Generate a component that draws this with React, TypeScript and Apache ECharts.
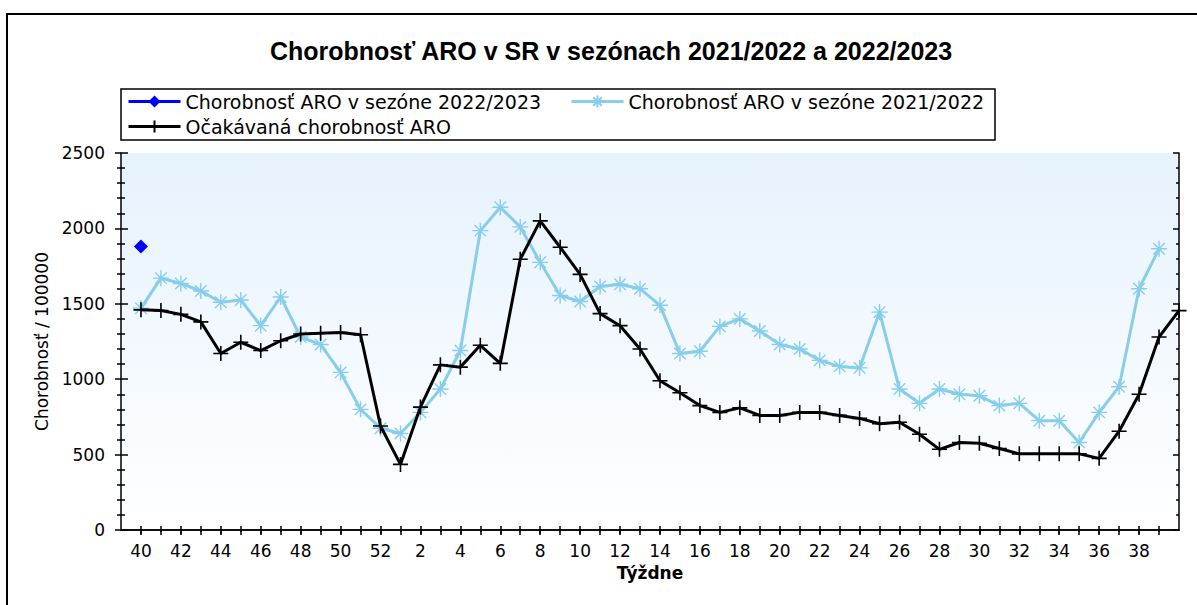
import React, { useEffect, useRef } from "react";
import * as echarts from "echarts";

const weekLabels = [
  "40", "41", "42", "43", "44", "45", "46", "47", "48", "49", "50", "51", "52",
  "1", "2", "3", "4", "5", "6", "7", "8", "9", "10", "11", "12", "13", "14", "15",
  "16", "17", "18", "19", "20", "21", "22", "23", "24", "25", "26", "27", "28",
  "29", "30", "31", "32", "33", "34", "35", "36", "37", "38", "39", "40",
];

const season2022_2023 = [1880];

const season2021_2022 = [
  1470, 1670, 1635, 1585, 1510, 1525, 1355, 1545, 1280, 1230, 1045, 800, 675,
  640, 780, 935, 1190, 1985, 2140, 2010, 1775, 1555, 1515, 1615, 1630, 1600,
  1490, 1170, 1185, 1350, 1400, 1320, 1230, 1200, 1125, 1085, 1075, 1445, 935,
  840, 935, 900, 890, 825, 840, 725, 725, 580, 780, 950, 1600, 1865,
];

const expected = [
  1460, 1455, 1430, 1380, 1170, 1245, 1190, 1255, 1300, 1305, 1310, 1295, 690,
  435, 815, 1095, 1080, 1225, 1105, 1795, 2050, 1875, 1695, 1435, 1355, 1200,
  990, 910, 825, 780, 810, 760, 760, 780, 780, 760, 740, 705, 715, 635, 535,
  580, 575, 540, 505, 505, 505, 505, 475, 655, 900, 1280, 1455,
];

const yTicks = { min: 0, max: 2500, interval: 500 };

const NAME_NEW = "Chorobnosť ARO v sezóne 2022/2023";
const NAME_OLD = "Chorobnosť ARO v sezóne 2021/2022";
const NAME_EXP = "Očakávaná chorobnosť ARO";
const TITLE = "Chorobnosť ARO v SR v sezónach 2021/2022 a 2022/2023";

const PLUS = "path://M0,-7L0,7M-7,0L7,0";
const ASTER = "path://M0,-7L0,7M-7,0L7,0M-5,-5L5,5M-5,5L5,-5";

const SKY = "#87ceeb";
const FONT = "DejaVu Sans";

export default function App() {
  const ref = useRef<HTMLDivElement>(null);
  useEffect(() => {
    if (!ref.current) return;
    const chart = echarts.init(ref.current, undefined, { renderer: "svg" });
    const cats = ["", ...weekLabels];
    const last = weekLabels.length - 1;
    const isMajor = (i: number, v: string) => i >= 1 && i <= last && Number(v) % 2 === 0;
    const isMinor = (i: number, v: string) => i >= 1 && i <= last && Number(v) % 2 === 1;
    const isAny = (i: number) => i >= 1 && i <= last;
    const gridPos = { left: 121, right: 18, top: 153, bottom: 75 };
    const blk = { color: "#000", width: 1.5 };
    const hiddenCat = (gi: number, pos: string, tick: any) => ({
      type: "category",
      gridIndex: gi,
      position: pos,
      data: cats,
      boundaryGap: false,
      axisLine: { show: false },
      axisLabel: { show: false },
      splitLine: { show: false },
      axisTick: tick,
    });
    const legendBase = {
      padding: 0,
      itemWidth: 52,
      itemHeight: 15,
      lineStyle: { width: 3 },
      textStyle: { fontFamily: FONT, fontSize: 19, color: "#000" },
    };
    const option: any = {
      animation: false,
      backgroundColor: "#fff",
      title: {
        text: TITLE,
        left: 606,
        top: 33,
        textAlign: "center",
        textStyle: {
          fontFamily: "Liberation Sans",
          fontWeight: "bold",
          fontSize: 25,
          color: "#000",
        },
      },
      legend: [
        { ...legendBase, data: [NAME_NEW], left: 127, top: 92 },
        { ...legendBase, data: [NAME_OLD], left: 570, top: 92 },
        { ...legendBase, data: [NAME_EXP], left: 127, top: 117 },
      ],
      graphic: [
        {
          type: "rect",
          shape: { x: 7, y: 14, width: 1200, height: 620 },
          style: { fill: "none", stroke: "#000", lineWidth: 2 },
          silent: true,
          z: -10,
        },
        {
          type: "rect",
          shape: { x: 121, y: 89, width: 874, height: 51 },
          style: { fill: "#fff", stroke: "#000", lineWidth: 1.5 },
          silent: true,
          z: -5,
        },
      ],
      grid: [
        {
          ...gridPos,
          show: true,
          borderWidth: 0,
          backgroundColor: new echarts.graphic.LinearGradient(0, 0, 0, 1, [
            { offset: 0, color: "#e6f2fd" },
            { offset: 1, color: "#ffffff" },
          ]),
        },
        { ...gridPos, show: false },
        { ...gridPos, show: false },
      ],
      xAxis: [
        {
          type: "category",
          gridIndex: 0,
          position: "bottom",
          data: cats,
          boundaryGap: false,
          axisLine: { show: true, lineStyle: blk },
          axisTick: { show: true, inside: false, length: 4, interval: isMajor, lineStyle: blk },
          axisLabel: {
            show: true,
            interval: isMajor,
            margin: 12,
            fontFamily: FONT,
            fontSize: 17,
            color: "#000",
          },
          splitLine: { show: false },
          name: "Týždne",
          nameLocation: "middle",
          nameGap: 34,
          nameTextStyle: { fontFamily: FONT, fontWeight: "bold", fontSize: 17, color: "#000" },
        },
        {
          type: "category",
          gridIndex: 0,
          position: "top",
          data: cats,
          boundaryGap: false,
          axisLine: { show: true, lineStyle: blk },
          axisTick: { show: true, inside: true, length: 5, interval: (i: number) => isAny(i), lineStyle: blk },
          axisLabel: { show: false },
          splitLine: { show: false },
        },
        hiddenCat(1, "bottom", { show: true, inside: true, length: 4, interval: (i: number) => isAny(i), lineStyle: blk }),
        hiddenCat(2, "bottom", { show: true, inside: false, length: 2, interval: isMinor, lineStyle: blk }),
      ],
      yAxis: [
        {
          type: "value",
          gridIndex: 0,
          position: "left",
          ...yTicks,
          axisLine: { show: true, lineStyle: blk },
          axisTick: { show: true, inside: false, length: 6, lineStyle: blk },
          minorTick: { show: true, splitNumber: 5, length: 4, lineStyle: blk },
          axisLabel: {
            show: true,
            margin: 16,
            fontFamily: FONT,
            fontSize: 17,
            color: "#000",
            formatter: (v: number) => String(v),
          },
          splitLine: { show: false },
          name: "Chorobnosť / 100000",
          nameLocation: "middle",
          nameRotate: 90,
          nameGap: 60,
          nameTextStyle: { fontFamily: FONT, fontSize: 17, color: "#000" },
        },
        {
          type: "value",
          gridIndex: 0,
          position: "right",
          ...yTicks,
          axisLine: { show: true, lineStyle: blk },
          axisTick: { show: true, inside: true, length: 6, lineStyle: blk },
          minorTick: { show: true, splitNumber: 5, length: 3, lineStyle: blk },
          axisLabel: { show: false },
          splitLine: { show: false },
        },
        {
          type: "value",
          gridIndex: 1,
          position: "left",
          ...yTicks,
          axisLine: { show: false },
          axisTick: { show: true, inside: true, length: 7, lineStyle: blk },
          minorTick: { show: true, splitNumber: 5, length: 4, lineStyle: blk },
          axisLabel: { show: false },
          splitLine: { show: false },
        },
        {
          type: "value",
          gridIndex: 2,
          position: "left",
          ...yTicks,
          show: false,
          splitLine: { show: false },
        },
      ],
      series: [
        {
          name: NAME_OLD,
          type: "line",
          xAxisIndex: 0,
          yAxisIndex: 0,
          data: [null, ...season2021_2022],
          symbol: ASTER,
          symbolSize: 16,
          showAllSymbol: true,
          lineStyle: { color: SKY, width: 3 },
          itemStyle: { color: SKY, borderColor: SKY, borderWidth: 1.4 },
          z: 2,
        },
        {
          name: NAME_EXP,
          type: "line",
          xAxisIndex: 0,
          yAxisIndex: 0,
          data: [null, ...expected],
          symbol: PLUS,
          symbolSize: 15,
          showAllSymbol: true,
          lineStyle: { color: "#000", width: 3 },
          itemStyle: { color: "#000", borderColor: "#000", borderWidth: 1.6 },
          z: 3,
        },
        {
          name: NAME_NEW,
          type: "line",
          xAxisIndex: 0,
          yAxisIndex: 0,
          data: [null, ...season2022_2023],
          symbol: "diamond",
          symbolSize: 14,
          showAllSymbol: true,
          lineStyle: { color: "#0000ff", width: 3 },
          itemStyle: { color: "#0000ff", borderColor: "#0000ff", borderWidth: 0 },
          z: 4,
        },
      ],
    };
    chart.setOption(option);
    return () => chart.dispose();
  }, []);
  return (
    <div
      ref={ref}
      style={{ position: "fixed", left: 0, top: 0, width: 1197, height: 605, background: "#fff" }}
    />
  );
}
